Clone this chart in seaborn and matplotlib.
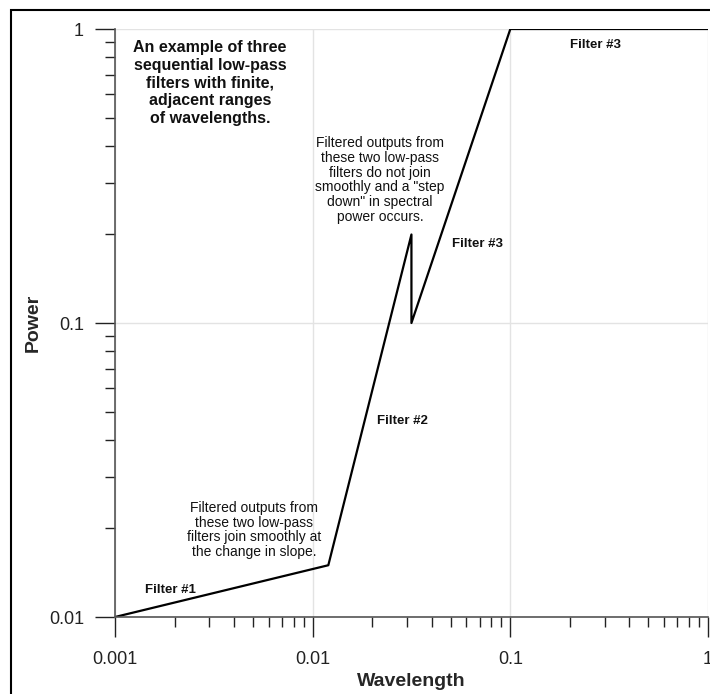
import matplotlib
matplotlib.use("Agg")
import matplotlib.pyplot as plt
import matplotlib.ticker as mticker
from matplotlib.patches import Rectangle
import seaborn as sns
import pandas as pd

# Data
wavelength = [0.001, 0.012, 0.0316, 0.0316, 0.1, 1.0]
power = [0.01, 0.015, 0.2, 0.1, 1.0, 1.0]
order = [0, 1, 2, 3, 4, 5]
x_ticks = [0.001, 0.01, 0.1, 1]
x_tick_labels = ["0.001", "0.01", "0.1", "1"]
y_ticks = [0.01, 0.1, 1]
y_tick_labels = ["0.01", "0.1", "1"]

df = pd.DataFrame({"Wavelength": wavelength, "Power": power, "order": order})

sns.set_style("white")
plt.rcParams["font.family"] = ["Liberation Sans", "DejaVu Sans"]

fig = plt.figure(figsize=(7.10, 6.94), dpi=100)
ax = fig.add_axes([115/710, 77/694, 593/710, 588/694])

sns.lineplot(data=df, x="Wavelength", y="Power", sort=False, estimator=None,
             color="black", linewidth=1.6, ax=ax)

ax.set_xscale("log")
ax.set_yscale("log")
ax.set_xlim(0.001, 1)
ax.set_ylim(0.01, 1)

ax.xaxis.set_major_locator(mticker.FixedLocator(x_ticks))
ax.xaxis.set_major_formatter(mticker.FixedFormatter(x_tick_labels))
ax.yaxis.set_major_locator(mticker.FixedLocator(y_ticks))
ax.yaxis.set_major_formatter(mticker.FixedFormatter(y_tick_labels))
ax.xaxis.set_minor_locator(mticker.LogLocator(base=10, subs=range(2, 10)))
ax.yaxis.set_minor_locator(mticker.LogLocator(base=10, subs=range(2, 10)))
ax.xaxis.set_minor_formatter(mticker.NullFormatter())
ax.yaxis.set_minor_formatter(mticker.NullFormatter())

ax.tick_params(which="major", direction="out", length=14.4, width=1.0,
               color="#222222", labelsize=13, labelcolor="#222222")
ax.tick_params(axis="x", which="major", pad=10)
ax.tick_params(axis="y", which="major", pad=8)
ax.tick_params(which="minor", direction="out", length=7.2, width=1.0, color="#222222")
ax.tick_params(axis="x", which="both", bottom=True)
ax.tick_params(axis="y", which="both", left=True)

ax.grid(True, which="major", color="#e3e3e3", linewidth=1.0)
ax.set_axisbelow(True)
for s in ["top", "right"]:
    ax.spines[s].set_visible(False)
for s in ["left", "bottom"]:
    ax.spines[s].set_color("#555555")
    ax.spines[s].set_linewidth(1.2)

ax.set_xlabel("Wavelength", fontsize=14, fontweight="bold", labelpad=4)
ax.set_ylabel("Power", fontsize=14, fontweight="bold", labelpad=5)

def axfrac(px, py):
    return (px - 115) / 593, (617 - py) / 588

tx = dict(transform=ax.transAxes, ha="center", va="center", color="#111111")

ax.text(*axfrac(210, 83), "An example of three\nsequential low-pass\nfilters with finite,\nadjacent ranges\nof wavelengths.",
        fontsize=11.5, fontweight="bold", linespacing=1.22, **tx)
ax.text(*axfrac(380, 180), "Filtered outputs from\nthese two low-pass\nfilters do not join\nsmoothly and a \"step\ndown\" in spectral\npower occurs.",
        fontsize=10, linespacing=1.07, **tx)
ax.text(*axfrac(254, 530), "Filtered outputs from\nthese two low-pass\nfilters join smoothly at\nthe change in slope.",
        fontsize=10, linespacing=1.09, **tx)
ax.text(*axfrac(170, 590), "Filter #1", fontsize=9.5, fontweight="bold", **tx)
ax.text(*axfrac(402, 421), "Filter #2", fontsize=9.5, fontweight="bold", **tx)
ax.text(*axfrac(478, 244), "Filter #3", fontsize=9.5, fontweight="bold", **tx)
ax.text(*axfrac(596, 45), "Filter #3", fontsize=9.5, fontweight="bold", **tx)

fig.patches.append(Rectangle((11/710, -0.5), 2.0, 0.5 + (694 - 10)/694, fill=False,
                             edgecolor="black", linewidth=1.5, transform=fig.transFigure,
                             clip_on=False))

fig.savefig("out.png", dpi=100)
